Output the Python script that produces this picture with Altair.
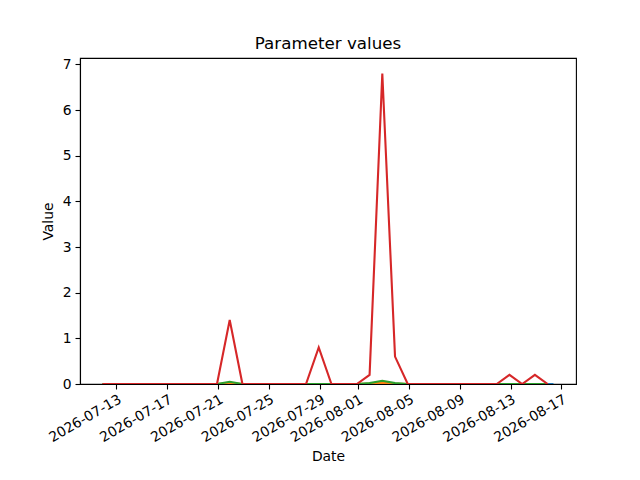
import altair as alt
import pandas as pd

# ---- data ----
start = "2026-07-11T22:00:00Z"
n_days = 36
dates = [d.strftime("%Y-%m-%dT%H:%M:%SZ") for d in pd.date_range(start, periods=n_days, freq="D")]
blue_extra_date = "2026-08-16T09:00:00Z"

series_names = ["param_a", "param_b", "param_c", "param_d"]
series_colors = ["#1f77b4", "#ff7f0e", "#2ca02c", "#d62728"]

blue_vals = [0.0] * 37
orange_vals = [0, 0, 0, 0, 0, 0, 0, 0, 0, 0, 0.02, 0, 0, 0, 0, 0, 0, 0, 0, 0,
               0, 0.01, 0.03, 0.01, 0, 0, 0, 0, 0, 0, 0, 0, 0, 0, 0, 0]
green_vals = [0, 0, 0, 0, 0, 0, 0, 0, 0, 0, 0.05, 0, 0, 0, 0, 0, 0, 0, 0, 0,
              0, 0.02, 0.07, 0.02, 0, 0, 0, 0, 0, 0, 0, 0, 0, 0, 0, 0]
red_vals = [0, 0, 0, 0, 0, 0, 0, 0, 0, 0, 1.4, 0, 0, 0, 0, 0, 0, 0.8, 0, 0,
            0, 0.2, 6.8, 0.6, 0, 0, 0, 0, 0, 0, 0, 0, 0.2, 0, 0.2, 0]

tick_dates = ["2026-07-13", "2026-07-17", "2026-07-21", "2026-07-25", "2026-07-29",
              "2026-08-01", "2026-08-05", "2026-08-09", "2026-08-13", "2026-08-17"]
y_ticks = [0, 1, 2, 3, 4, 5, 6, 7]

# ---- build tables ----
all_dates = [dates + [blue_extra_date], dates, dates, dates]
all_vals = [blue_vals, orange_vals, green_vals, red_vals]
frames = []
for name, ds, vs in zip(series_names, all_dates, all_vals):
    frames.append(pd.DataFrame({"date": ds, "value": vs, "series": name}))

ts = pd.to_datetime([d for ds in all_dates for d in ds], utc=True)
tmin = ts.min().value // 10**6
tmax = ts.max().value // 10**6
pad = (tmax - tmin) * 0.05
x_domain = [tmin - pad, tmax + pad]
ymax = max(max(v) for v in all_vals) * 1.05

tick_ms = [pd.Timestamp(t, tz="UTC").value // 10**6 for t in tick_dates]

font = "DejaVu Sans"

layers = []
for name, color, df in zip(series_names, series_colors, frames):
    layers.append(
        alt.Chart(df).mark_line(color=color, strokeWidth=2.1, clip=True).encode(
            x=alt.X("date:T",
                    scale=alt.Scale(type="utc", domain=x_domain, nice=False),
                    axis=alt.Axis(title="Date", values=tick_ms, format="%Y-%m-%d",
                                  labelAngle=-30, labelAlign="right", labelBaseline="top",
                                  grid=False, tickSize=5, labelPadding=3,
                                  titlePadding=5, labelOverlap=False, labelFlush=False)),
            y=alt.Y("value:Q",
                    scale=alt.Scale(domain=[0, ymax], nice=False, zero=True),
                    axis=alt.Axis(title="Value", values=y_ticks, grid=False, tickSize=5,
                                  labelPadding=4, titlePadding=7)),
        )
    )

chart = alt.layer(*layers).properties(
    width=496, height=326,
    title=alt.TitleParams("Parameter values", fontSize=16.7, fontWeight="normal",
                          font=font, color="black", offset=9, baseline="alphabetic", dy=17),
    autosize=alt.AutoSizeParams(type="none"),
    padding={"left": 72, "top": 50, "right": 48, "bottom": 80},
).configure_view(
    stroke="black", strokeWidth=1.1
).configure_axis(
    labelFont=font, titleFont=font, labelFontSize=13.9, titleFontSize=13.9,
    labelColor="black", titleColor="black", domainColor="black", tickColor="black",
    domainWidth=1.1, tickWidth=1.1, titleFontWeight="normal"
)

chart.save("out.html", embed_options={"renderer": "svg", "actions": False})
